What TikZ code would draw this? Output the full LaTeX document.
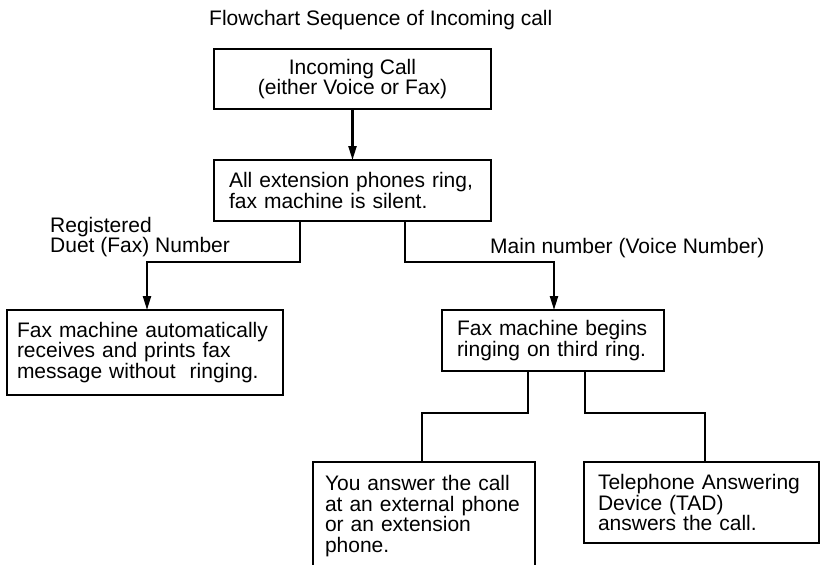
\documentclass[tikz,border=0pt]{standalone}
\usepackage{fontspec}
\setmainfont{Liberation Sans}
\usetikzlibrary{arrows.meta,calc}
\newcommand\dfont{\fontsize{21}{20.5}\selectfont}
\begin{document}
\begin{tikzpicture}[x=1pt,y=-1pt,
  box/.style={draw, line width=2.4pt, outer sep=0pt, inner ysep=0pt, anchor=north west, font=\dfont, align=left},
  lbl/.style={inner sep=0pt, font=\dfont, align=left},
  conn/.style={line width=2.2pt},
  arr/.style={line width=2.2pt, -{Triangle[length=14pt,width=8pt]}}]
\useasboundingbox (0,0) rectangle (820,565);
\clip (0,0) rectangle (820,565);

\node[lbl, anchor=base west] (title) at (209,25) {Flowchart Sequence of Incoming call};

\node[box, align=center, minimum width=277pt, minimum height=60pt] (b1) at (214,49)
  {Incoming Call\\(either Voice or Fax)};
\node[box, minimum width=277pt, minimum height=61pt, inner xsep=15pt, text width=247pt] (b2) at (214,160)
  {All extension phones ring,\\fax machine is silent.};
\node[box, minimum width=276pt, minimum height=85pt, inner xsep=10pt, text width=256pt] (b3) at (7,310)
  {Fax machine automatically\\receives and prints fax\\message without\ \ ringing.};
\node[box, minimum width=222pt, minimum height=61pt, inner xsep=15pt, text width=192pt] (b4) at (442,310)
  {Fax machine begins\\ringing on third ring.};
\node[box, minimum width=222pt, minimum height=108pt, inner xsep=12pt, text width=198pt] (b5) at (313,462)
  {You answer the call\\at an external phone\\or an extension\\phone.};
\node[box, minimum width=235pt, minimum height=81pt, inner xsep=14pt, text width=207pt] (b6) at (584,462)
  {Telephone Answering\\Device (TAD)\\answers the call.};

\node[lbl, anchor=north west] (lreg) at (50,217) {Registered\\Duet (Fax) Number};
\node[lbl, anchor=base west] (lmain) at (490,253) {Main number (Voice Number)};

\coordinate (jl) at (147,262);
\coordinate (jr) at (554,262);
\coordinate (kl) at (422,413);
\coordinate (kr) at (705,413);

\draw[arr] (b1) -- (b2);
\draw[arr] ([xshift=-52.5pt]b2.south) |- (jl) -- (jl |- b3.north);
\draw[arr] ([xshift=52.5pt]b2.south) |- (jr) -- (jr |- b4.north);
\draw[conn] ([xshift=-25pt]b4.south) |- (kl) -- (kl |- b5.north);
\draw[conn] ([xshift=32pt]b4.south) |- (kr) -- (kr |- b6.north);
\end{tikzpicture}
\end{document}
